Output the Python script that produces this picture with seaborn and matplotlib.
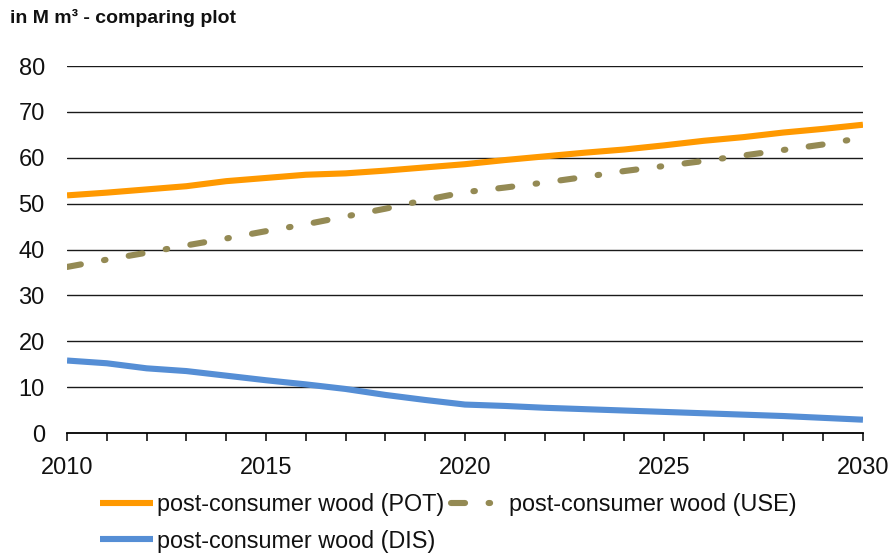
import matplotlib
matplotlib.use("Agg")
import matplotlib.pyplot as plt
import seaborn as sns
import pandas as pd

# Annual volumes of post-consumer wood, million cubic metres
years = list(range(2010, 2031))
pot = [51.8, 52.4, 53.1, 53.8, 54.9, 55.6, 56.3, 56.6, 57.2, 57.9, 58.6,
       59.5, 60.3, 61.1, 61.8, 62.7, 63.7, 64.5, 65.5, 66.3, 67.2]
use = [36.2, 37.8, 39.3, 40.9, 42.4, 44.0, 45.5, 47.2, 48.9, 50.8, 52.5,
       53.5, 54.6, 55.8, 57.1, 58.2, 59.3, 60.5, 61.7, 62.9, 64.4]
dis = [15.8, 15.2, 14.1, 13.5, 12.5, 11.5, 10.6, 9.6, 8.3, 7.2, 6.2,
       5.9, 5.5, 5.2, 4.9, 4.6, 4.3, 4.0, 3.7, 3.3, 2.9]

labels = ["post-consumer wood (POT)", "post-consumer wood (USE)",
          "post-consumer wood (DIS)"]
colors = ["#FF9900", "#948A54", "#558ED5"]
y_ticks = [0, 10, 20, 30, 40, 50, 60, 70, 80]
x_labels = [2010, 2015, 2020, 2025, 2030]

df = pd.DataFrame({
    "year": years * 3,
    "value": pot + use + dis,
    "series": [labels[0]] * len(years) + [labels[1]] * len(years)
              + [labels[2]] * len(years),
})

sns.set_theme(style="white")
plt.rcParams["font.family"] = ["Liberation Sans", "DejaVu Sans"]

fig = plt.figure(figsize=(8.95, 5.59), dpi=100)
ax = fig.add_axes([0.0749, 0.2254, 0.8893, 0.6565])

lw = 4.4
for lab, col in zip(labels, colors):
    sub = df[df["series"] == lab]
    sns.lineplot(data=sub, x="year", y="value", ax=ax, color=col,
                 linewidth=lw, label=lab, legend=False)
    ln = ax.lines[-1]
    ln.set_solid_capstyle("butt")
    if lab.endswith("(USE)"):
        ln.set_linestyle((0, (2.3, 3.85, 0.25, 3.85)))
        ln.set_dash_capstyle("round")

ax.set_xlim(2010, 2030)
ax.set_ylim(0, 80)
ax.set_yticks(y_ticks)
ax.set_xticks(years)
ax.set_xticklabels([str(y) if y in x_labels else "" for y in years])
ax.set_xlabel("")
ax.set_ylabel("")

for v in y_ticks[1:]:
    ax.axhline(v, color="#1a1a1a", linewidth=1.0, zorder=0)

for side in ["top", "right", "left"]:
    ax.spines[side].set_visible(False)
ax.spines["bottom"].set_color("black")
ax.spines["bottom"].set_linewidth(1.3)

ax.tick_params(axis="y", length=0, pad=16, labelsize=17, labelcolor="#111111")
ax.tick_params(axis="x", direction="out", length=5.5, width=1.1,
               color="black", bottom=True, pad=12, labelsize=17,
               labelcolor="#111111")

fig.text(10 / 895, 1 - 18 / 559, "in M m³ - comparing plot",
         fontsize=14, fontweight="bold", va="center", ha="left",
         color="#111111")

handles = {l.get_label(): l for l in ax.lines if l.get_label() in labels}
order = [labels[0], labels[2], labels[1]]
fig.legend([handles[k] for k in order], order, ncol=2, frameon=False,
           loc="upper left", bbox_to_anchor=(100 / 895, 1 - 493 / 559),
           borderpad=0, borderaxespad=0, handlelength=2.25,
           handletextpad=0.2, columnspacing=0.3, labelspacing=0.58,
           fontsize=16.8, labelcolor="#111111")

fig.savefig("out.png", dpi=100)
